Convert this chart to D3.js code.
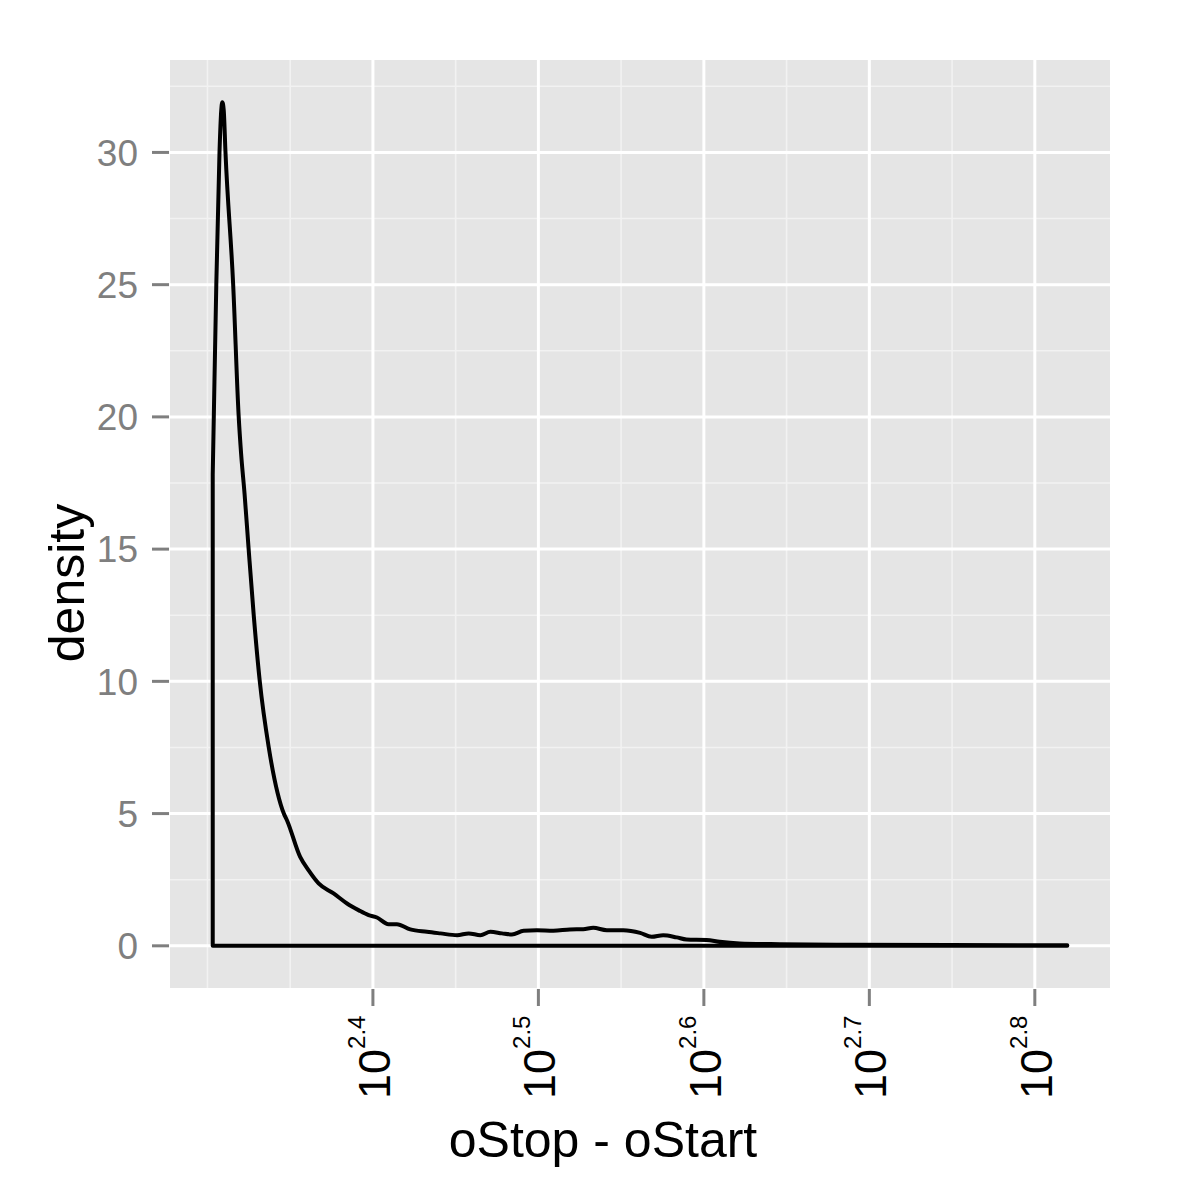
<!DOCTYPE html>
<html>
<head>
<meta charset="utf-8">
<script src="https://cdn.jsdelivr.net/npm/d3@7"></script>
<style>
  body { margin: 0; background: #fff; }
  svg { display: block; }
</style>
</head>
<body>
<svg id="chart" width="1200" height="1200"></svg>
<script>
// oStop - oStart (bp)
const lengths = [201, 201.3, 202.0, 202.9, 203.4, 203.7, 204.1, 204.6, 206.8, 208.4, 209.1, 210.1,
  211.3, 212.8, 214.6, 217.3, 221.9, 222.9, 227.0, 229.7, 232.9, 237.8, 242.3, 246.2,
  249.7, 252.6, 256.7, 259.7, 264.6, 270.8, 275.9, 282.4, 287.0, 291.7, 295.8, 300.6,
  304.8, 309.8, 315.5, 322.9, 330.4, 336.6, 341.3, 347.8, 355.9, 364.3, 370.2, 376.2,
  383.3, 388.6, 399.6, 407.0, 418.5, 442.5, 487.7, 560.5, 660.1];
const density = [17.8, 20, 25, 30, 31.6, 31.9, 31.6, 30, 25, 20, 18.6, 17.1,
  15, 12.5, 10, 7.5, 5, 4.74, 3.36, 2.85, 2.36, 1.98, 1.6, 1.35,
  1.16, 1.07, 0.82, 0.82, 0.62, 0.53, 0.47, 0.40, 0.47, 0.40, 0.53, 0.47,
  0.43, 0.57, 0.59, 0.57, 0.62, 0.63, 0.68, 0.59, 0.59, 0.49, 0.34, 0.40,
  0.32, 0.24, 0.22, 0.15, 0.09, 0.06, 0.04, 0.03, 0.02];

// breaks (log10 exponents for x)
const xBreaks = [2.4, 2.5, 2.6, 2.7, 2.8];
const xMinor = [2.3, 2.35, 2.45, 2.55, 2.65, 2.75, 2.85];
const yBreaks = [0, 5, 10, 15, 20, 25, 30];
const yMinor = [-2.5, 2.5, 7.5, 12.5, 17.5, 22.5, 27.5, 32.5];

const xTitle = "oStop - oStart";
const yTitle = "density";

const data = lengths.map((v, i) => ({ len: v, d: density[i] }));

const panel = { left: 170, right: 1110, top: 60, bottom: 988 };
const font = "Liberation Sans, Arial, sans-serif";

// ggplot style 5% expansion
var lx = d3.extent(lengths, v => Math.log10(v));
var padX = (lx[1] - lx[0]) * 0.05;
var x = d3.scaleLog()
  .domain([Math.pow(10, lx[0] - padX), Math.pow(10, lx[1] + padX)])
  .range([panel.left, panel.right]);

var yMax = d3.max(density);
var y = d3.scaleLinear()
  .domain([0 - yMax * 0.05, yMax * 1.05])
  .range([panel.bottom, panel.top]);

const svg = d3.select("#chart");

svg.append("rect")
  .attr("x", panel.left)
  .attr("y", panel.top)
  .attr("width", panel.right - panel.left)
  .attr("height", panel.bottom - panel.top)
  .attr("fill", "#e5e5e5");

const inX = e => { var p = x(Math.pow(10, e)); return p >= panel.left && p <= panel.right; };
const inY = v => { var p = y(v); return p >= panel.top && p <= panel.bottom; };

// minor grid
svg.selectAll(".xminor").data(xMinor.filter(inX)).enter()
  .append("line")
  .attr("x1", d => x(Math.pow(10, d))).attr("x2", d => x(Math.pow(10, d)))
  .attr("y1", panel.top).attr("y2", panel.bottom)
  .attr("stroke", "#f2f2f2").attr("stroke-width", 1.6);

svg.selectAll(".yminor").data(yMinor.filter(inY)).enter()
  .append("line")
  .attr("x1", panel.left).attr("x2", panel.right)
  .attr("y1", d => y(d)).attr("y2", d => y(d))
  .attr("stroke", "#f2f2f2").attr("stroke-width", 1.6);

// major grid
svg.selectAll(".xmajor").data(xBreaks).enter()
  .append("line")
  .attr("x1", d => x(Math.pow(10, d))).attr("x2", d => x(Math.pow(10, d)))
  .attr("y1", panel.top).attr("y2", panel.bottom)
  .attr("stroke", "#fff").attr("stroke-width", 3);

svg.selectAll(".ymajor").data(yBreaks).enter()
  .append("line")
  .attr("x1", panel.left).attr("x2", panel.right)
  .attr("y1", d => y(d)).attr("y2", d => y(d))
  .attr("stroke", "#fff").attr("stroke-width", 3);

// density outline (area with stroke, like geom_density)
var area = d3.area()
  .x(d => x(d.len))
  .y0(y(0))
  .y1(d => y(d.d))
  .curve(d3.curveMonotoneX);

svg.append("path")
  .datum(data)
  .attr("d", area)
  .attr("fill", "none")
  .attr("stroke", "#000")
  .attr("stroke-width", 4)
  .attr("stroke-linejoin", "round");

// y axis ticks + labels
var yAxis = svg.append("g").attr("class", "yaxis");
yAxis.selectAll("line").data(yBreaks).enter()
  .append("line")
  .attr("x1", panel.left - 18).attr("x2", panel.left - 1)
  .attr("y1", d => y(d)).attr("y2", d => y(d))
  .attr("stroke", "#7f7f7f").attr("stroke-width", 3);
yAxis.selectAll("text").data(yBreaks).enter()
  .append("text")
  .attr("x", panel.left - 32)
  .attr("y", d => y(d))
  .attr("dy", "0.36em")
  .attr("text-anchor", "end")
  .attr("font-family", font)
  .attr("font-size", 37)
  .attr("fill", "#7f7f7f")
  .text(d => d);

// x axis ticks + rotated 10^k labels
var xAxis = svg.append("g").attr("class", "xaxis");
xAxis.selectAll("line").data(xBreaks).enter()
  .append("line")
  .attr("x1", d => x(Math.pow(10, d))).attr("x2", d => x(Math.pow(10, d)))
  .attr("y1", panel.bottom + 1).attr("y2", panel.bottom + 18)
  .attr("stroke", "#7f7f7f").attr("stroke-width", 3);

var xLab = xAxis.selectAll("text").data(xBreaks).enter()
  .append("text")
  .attr("transform", d => "translate(" + (x(Math.pow(10, d)) + 17) + "," + 1099 + ") rotate(-90)")
  .attr("text-anchor", "start")
  .attr("font-family", font)
  .attr("font-size", 45)
  .attr("fill", "#000");
xLab.append("tspan").text("10");
xLab.append("tspan")
  .attr("dy", -25)
  .attr("font-size", 24)
  .text(d => d3.format(".1f")(d));

// axis titles
svg.append("text")
  .attr("x", 603)
  .attr("y", 1157)
  .attr("text-anchor", "middle")
  .attr("font-family", font)
  .attr("font-size", 50)
  .attr("fill", "#000")
  .text(xTitle);

svg.append("text")
  .attr("transform", "translate(84,583) rotate(-90)")
  .attr("text-anchor", "middle")
  .attr("font-family", font)
  .attr("font-size", 50)
  .attr("fill", "#000")
  .text(yTitle);
</script>
</body>
</html>
